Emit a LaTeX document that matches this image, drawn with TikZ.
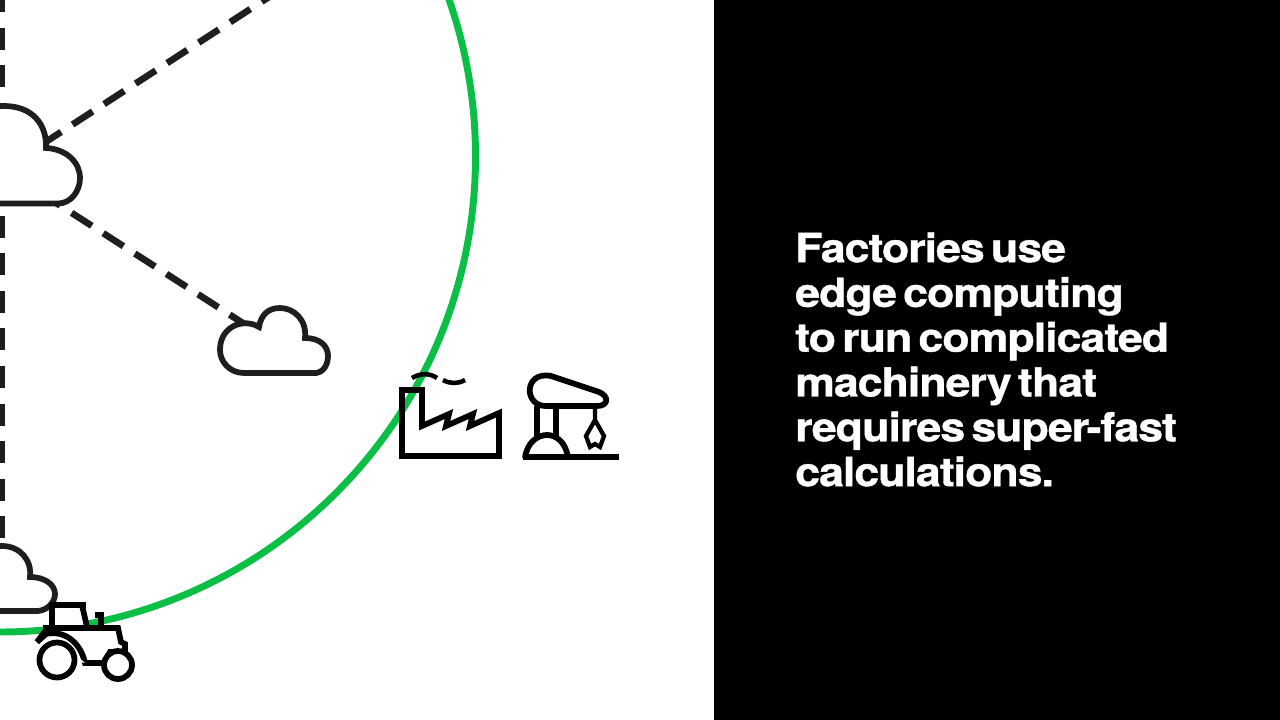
\documentclass[tikz,border=0pt]{standalone}
\usepackage{fontspec}
\setmainfont{TeX Gyre Heros}
\newfontfamily\capfont[FakeStretch=1.115,FakeBold=1.0,LetterSpace=-2.4,WordSpace=0.55,BoldFont={* Bold}]{TeX Gyre Heros}
\usetikzlibrary{positioning}
\definecolor{edgegreen}{RGB}{10,190,70}
\definecolor{inkblack}{RGB}{30,30,30}
\tikzset{
	iconline/.style={draw=black,line width=4.3pt,miter limit=6,fill=none},
	cloudline/.style={draw=inkblack,line width=4.3pt,fill=white},
	dashline/.style={draw=inkblack,line width=5pt,dash pattern={on 18pt off 10.2pt}},
	axisline/.style={draw=inkblack,line width=3.5pt,dash pattern={on 16.5pt off 11.7pt}},
	caption/.style={text=white,font=\fontsize{30}{33.6}\capfont\bfseries\selectfont,align=left,inner sep=0pt,anchor=north west},
}
\begin{document}
\begin{tikzpicture}[x=0.75pt,y=0.75pt,yscale=-1,xscale=1]
	\useasboundingbox (0,0) rectangle (1280,720);
	\clip (0,0) rectangle (1280,720);

	%ring
	\draw [edgegreen,line width=5.2pt] (0,156.5) circle [radius=475.5];

	%anchor points of the dashed links
	\coordinate (topEnd) at (272,-5);
	\coordinate (cloudTopNE) at (41,145);
	\coordinate (cloudTopSE) at (40,192.5);
	\coordinate (cloudMidNW) at (252,329);
	\coordinate (axisTop) at (2.3,-10);
	\coordinate (axisBottom) at (2.3,600);
	\draw [axisline] (axisTop) -- (axisBottom);
	\draw [dashline] (cloudTopNE) -- (topEnd);
	\draw [dashline] (cloudTopSE) -- (cloudMidNW);

	%cloud, top
	\draw [cloudline] (-30,203.5) -- (58,203.5) .. controls (71,203.5) and (80,191) .. (80,178) .. controls (80,162) and (66,149) .. (46,148) .. controls (47,124) and (32,106) .. (4,106) .. controls (-20,106) and (-34,122) .. (-30,145) -- cycle;
	%cloud, middle
	\draw [cloudline] (244,373) -- (316,373) .. controls (324,372) and (328,364) .. (328,356) .. controls (328,346) and (320,338) .. (305,338) .. controls (307,320) and (294,308) .. (280,308) .. controls (268,308) and (261,315) .. (259,327) .. controls (251,322) and (240,322) .. (232,327) .. controls (224,332) and (220,340) .. (220,350) .. controls (220,362) and (230,373) .. (244,373) -- cycle;
	%cloud, bottom
	\draw [cloudline] (-30,611) -- (38,611) .. controls (48,610) and (55,602) .. (55,594) .. controls (55,584) and (44,577) .. (30,577) .. controls (32,560) and (20,546) .. (2,546) .. controls (-20,546) and (-30,560) .. (-30,580) -- cycle;

	%factory
	\draw [iconline] (402,456) -- (402,390) -- (422,390) -- (422,426) -- (449,414) -- (446,426) -- (473,414) -- (470,426) -- (499,413) -- (499,456) -- cycle;
	\draw [iconline,line width=3.4pt] (412,378) .. controls (420,373) and (430,373) .. (437,378);
	\draw [iconline,line width=3.4pt] (443,380) .. controls (450,384) and (458,384) .. (465,380);

	%crane
	\draw [iconline] (551,376) -- (599,392) .. controls (609,396) and (609,406) .. (597,406) -- (546,406) .. controls (525,406) and (524,376) .. (545,375.5) .. controls (547,375.5) and (549,375.5) .. (551,376) -- cycle;
	\draw [iconline] (537,406) -- (537,436);
	\draw [iconline] (556,406) -- (556,436);
	\draw [iconline] (525,458) .. controls (527,442) and (538,435) .. (547,435) .. controls (556,435) and (566,442) .. (568,458);
	\draw [iconline] (523,457) -- (619,457);
	\draw [iconline,line width=3.2pt] (595,406) -- (595,420) -- (604,436) -- (600,447) -- (595,444) -- (590,447) -- (586,436) -- (595,420);

	%tractor
	\draw [iconline,fill=white] (52,627) -- (52,605) -- (82,605) -- (87,627);
	\draw [iconline] (80,605) -- (86,605);
	\draw [iconline] (95,615) -- (101,615) -- (101,628);
	\draw [iconline,fill=white] (37,642) -- (46,630) -- (46,628) -- (118,628) -- (121,642) -- (125,644) -- (125,652) -- (110,652) -- (104,663) -- (85,663) .. controls (80,640) and (62,630) .. (46,634) -- cycle;
	\draw [draw=none,fill=white] (58,658) -- (60,640) -- (85,663) -- cycle;
	\draw [iconline,fill=white] (57,660) circle [radius=17.5];
	\draw [iconline,fill=white] (118,665) circle [radius=14];

	%black panel
	\fill [black] (714,0) rectangle (1280,720);
	\node (panelText) [caption] at (795,232) {Factories use\\edge computing\\to run complicated\\machinery that\\requires super-fast\\calculations.};
\end{tikzpicture}
\end{document}
